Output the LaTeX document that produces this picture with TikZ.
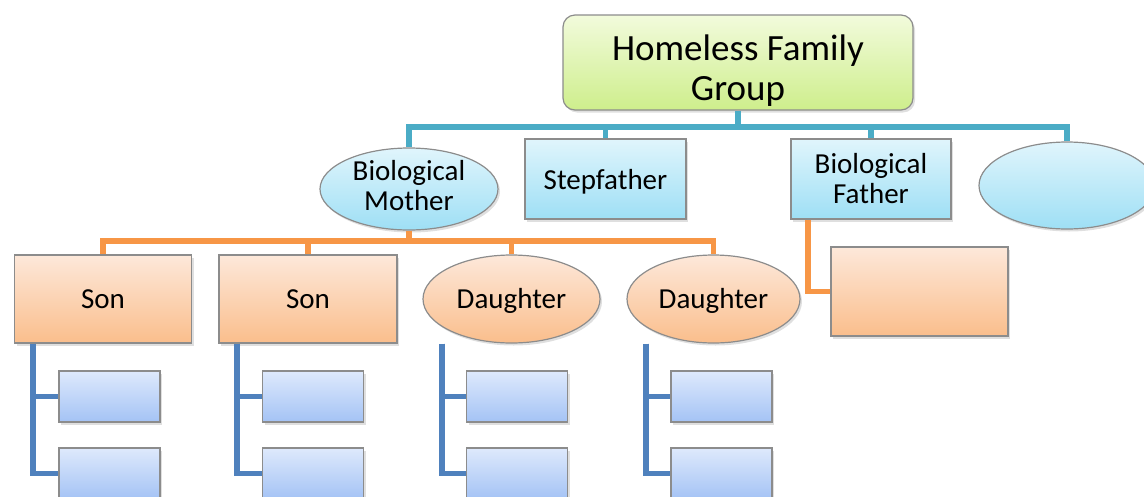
\documentclass[tikz,border=0pt]{standalone}
\usepackage{fontspec}
\setmainfont{Carlito}
\usetikzlibrary{shapes.geometric,shadows}
\definecolor{tcol}{RGB}{75,172,198}
\definecolor{ocol}{RGB}{247,150,70}
\definecolor{bcol}{RGB}{79,129,189}
\definecolor{gcol}{RGB}{140,140,140}
\tikzset{every picture/.style={x=1pt,y=-1pt}}
\tikzset{box/.style={rectangle,draw=gcol,line width=1.2pt,inner sep=2pt,align=center,text=black,font=\fontsize{29}{30}\selectfont,drop shadow={opacity=.25,shadow xshift=2pt,shadow yshift=-2.5pt}}}
\tikzset{oval/.style={box,ellipse}}
\tikzset{lime/.style={top color={rgb,255:red,242;green,251;blue,220},bottom color={rgb,255:red,206;green,238;blue,140}}}
\tikzset{sky/.style={top color={rgb,255:red,224;green,245;blue,252},bottom color={rgb,255:red,158;green,223;blue,245}}}
\tikzset{peach/.style={top color={rgb,255:red,253;green,232;blue,218},bottom color={rgb,255:red,250;green,190;blue,140}}}
\tikzset{pale/.style={top color={rgb,255:red,222;green,233;blue,252},bottom color={rgb,255:red,164;green,195;blue,245}}}
\tikzset{tline/.style={tcol,line width=5.5pt}}
\tikzset{oline/.style={ocol,line width=5.5pt}}
\tikzset{bline/.style={bcol,line width=5.5pt}}

\begin{document}
\begin{tikzpicture}
\useasboundingbox (0,0) rectangle (1144,496);

\node [box,lime,rounded corners=12pt,minimum width=350,minimum height=95,font=\fontsize{37}{40}\selectfont] (top) at (738,62.5) {\rule{0pt}{42pt}Homeless Family\\Group};

\node [oval,sky,inner sep=0pt,minimum width=178,minimum height=82] (m1) at (409,189) {Biological\\Mother\rule[-7pt]{0pt}{0pt}};
\node [box,sky,minimum width=161,minimum height=80] (m2) at (605.5,179) {\rule{0pt}{26pt}Stepfather};
\node [box,sky,minimum width=160,minimum height=80] (m3) at (871,179) {Biological\\Father};
\node [oval,sky,minimum width=176,minimum height=87] (m4) at (1067,185.5) {};

\node [box,peach,minimum width=177,minimum height=88] (c1) at (103,299) {Son};
\node [box,peach,minimum width=178,minimum height=88] (c2) at (308,299) {Son};
\node [oval,peach,minimum width=177,minimum height=88] (c3) at (511.5,299) {\rule{0pt}{24pt}Daughter};
\node [oval,peach,minimum width=173,minimum height=88] (c4) at (713.5,299) {\rule{0pt}{24pt}Daughter};
\node [box,peach,minimum width=177,minimum height=89] (c5) at (919.5,291.5) {};

\node [box,pale,minimum width=101,minimum height=51] (g11) at (109.5,396.5) {};
\node [box,pale,minimum width=101,minimum height=51] (g12) at (109.5,473.5) {};
\node [box,pale,minimum width=101,minimum height=51] (g21) at (313,396.5) {};
\node [box,pale,minimum width=101,minimum height=51] (g22) at (313,473.5) {};
\node [box,pale,minimum width=101,minimum height=51] (g31) at (517,396.5) {};
\node [box,pale,minimum width=101,minimum height=51] (g32) at (517,473.5) {};
\node [box,pale,minimum width=101,minimum height=51] (g41) at (721.5,396.5) {};
\node [box,pale,minimum width=101,minimum height=51] (g42) at (721.5,473.5) {};

\coordinate (tb) at (738,127);
\coordinate (ob) at (409,241);

\draw [tline] (top.south) -- (tb) -| (m1.north);
\draw [tline] (tb) -| (m2.north);
\draw [tline] (tb) -| (m3.north);
\draw [tline] (tb) -| (m4.north);

\draw [oline] (m1.south) -- (ob) -| (c1.north);
\draw [oline] (ob) -| (c2.north);
\draw [oline] (ob) -| (c3.north);
\draw [oline] (ob) -| (c4.north);
\draw [oline] ([xshift=-63pt]m3.south) |- (c5.west);

\draw [bline] ([xshift=-70pt]c1.south) |- (g11.west);
\draw [bline] ([xshift=-70pt]c1.south) |- (g12.west);
\draw [bline] ([xshift=-71pt]c2.south) |- (g21.west);
\draw [bline] ([xshift=-71pt]c2.south) |- (g22.west);
\draw [bline] ([xshift=-69.5pt]c3.south) |- (g31.west);
\draw [bline] ([xshift=-69.5pt]c3.south) |- (g32.west);
\draw [bline] ([xshift=-67.5pt]c4.south) |- (g41.west);
\draw [bline] ([xshift=-67.5pt]c4.south) |- (g42.west);
\end{tikzpicture}
\end{document}
